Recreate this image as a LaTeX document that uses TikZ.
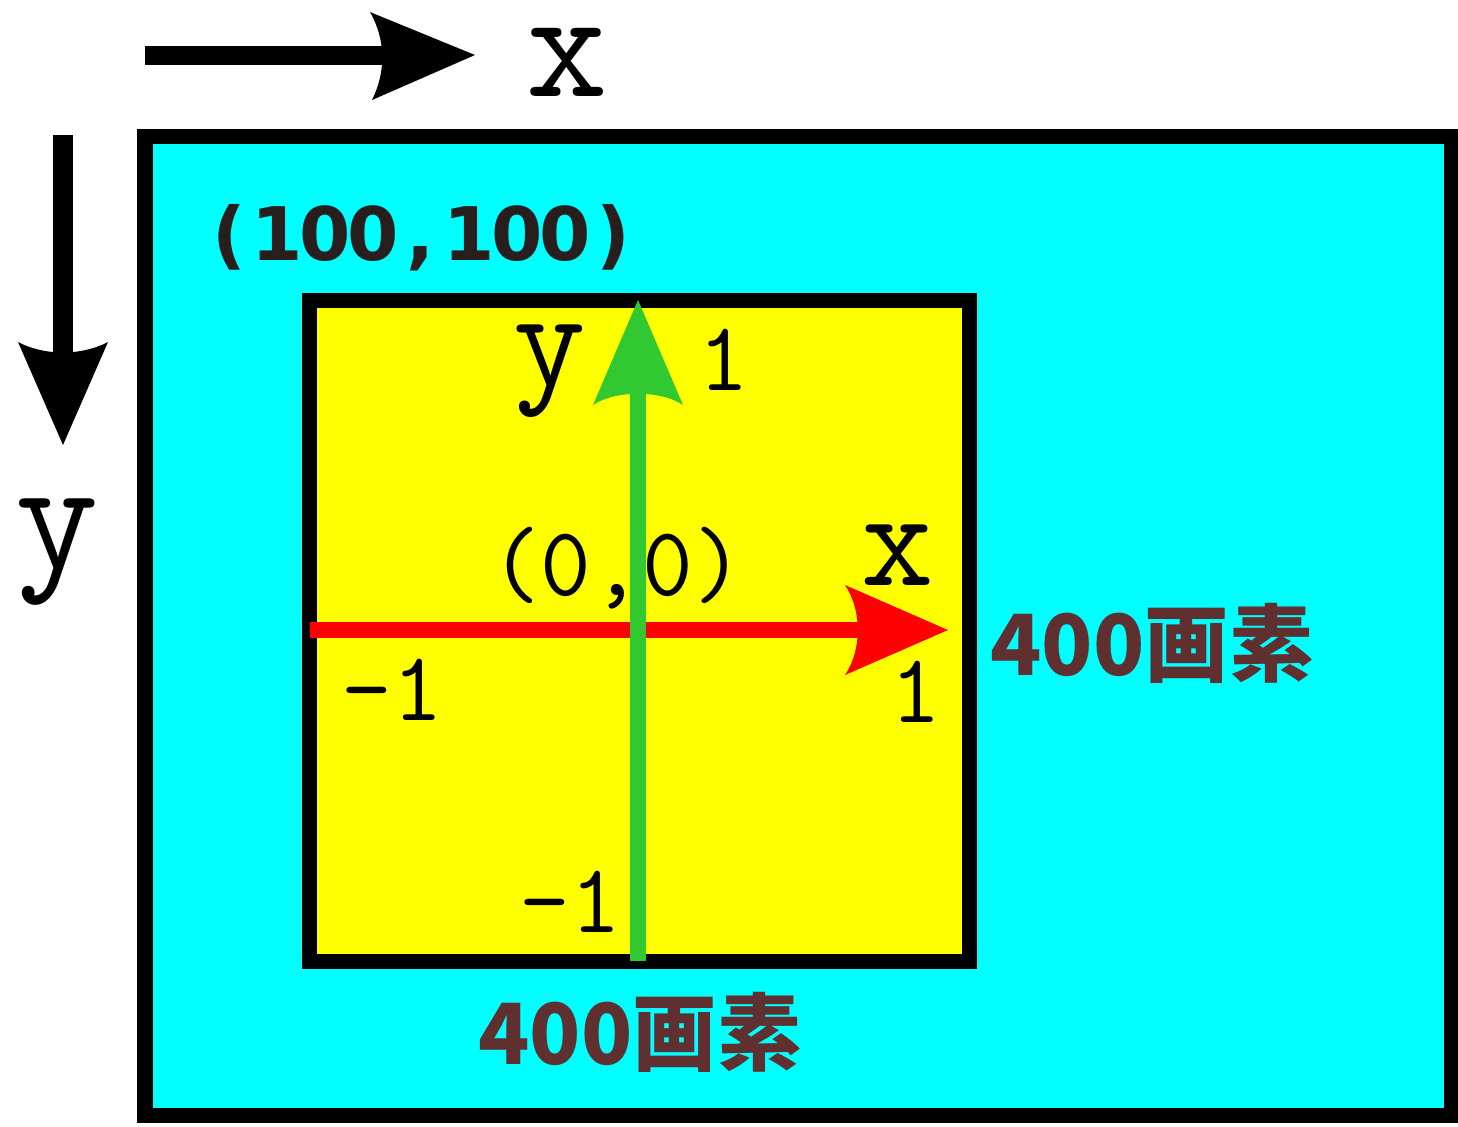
\documentclass[tikz,border=0pt]{standalone}
\usepackage{fontspec}
\newfontfamily\bsans{DejaVu Sans}
\newfontfamily\cjk{Noto Sans CJK JP}
\definecolor{cyanbg}{RGB}{0,255,255}
\definecolor{yel}{RGB}{255,255,0}
\definecolor{grn}{RGB}{50,200,50}
\definecolor{redc}{RGB}{255,0,0}
\definecolor{brn}{RGB}{96,48,48}
\definecolor{dk}{RGB}{40,30,30}
\tikzset{
  frame/.style={draw=black,line width=0.15cm},
  lbl/.style={inner sep=0pt,anchor=base},
  pix/.style={inner sep=0pt,text=brn,font=\cjk\bfseries\fontsize{24}{24}\selectfont},
}
\newcommand{\tsz}[1]{\ttfamily\fontsize{#1}{#1}\selectfont}
\newcommand{\mch}[1]{\makebox[0.48cm][c]{#1}}
\begin{document}
\begin{tikzpicture}[x=0.01cm,y=-0.01cm]
\useasboundingbox (0,0) rectangle (1458,1126);
% outer canvas
\path[frame,fill=cyanbg] (145,136) rectangle (1451,1115);
% inner square
\path[frame,fill=yel] (309,300) rectangle (969,961);
% top x arrow
\coordinate (tx0) at (145,55);
\coordinate (tx1) at (390,55);
\draw[line width=0.19cm] (tx0) -- (tx1);
\fill (475,55) -- (370,12) .. controls (386,40) and (386,72) .. (372,100) -- cycle;
\node[lbl,font=\tsz{45}] (bx) at (567,96) {x};
% left y arrow
\coordinate (ly0) at (63,135);
\coordinate (ly1) at (63,365);
\draw[line width=0.19cm] (ly0) -- (ly1);
\fill (63,445) -- (18,342) .. controls (45,356) and (81,356) .. (108,342) -- cycle;
\node[lbl,font=\tsz{46}] (by) at (57,568) {y};
% red x axis
\coordinate (rx0) at (310,630);
\coordinate (rx1) at (870,630);
\draw[redc,line width=0.16cm] (rx0) -- (rx1);
\fill[redc] (948,630) -- (845,585) .. controls (862,610) and (862,650) .. (845,675) -- cycle;
% green y axis
\coordinate (gy0) at (638,961);
\coordinate (gy1) at (638,390);
\draw[grn,line width=0.16cm] (gy0) -- (gy1);
\fill[grn] (638,300) -- (593,405) .. controls (615,390) and (661,390) .. (683,405) -- cycle;
% labels
\node[lbl,text=dk,font=\bsans\bfseries\fontsize{21}{21}\selectfont] (p100) at (421,260) {\mch{(}\mch{1}\mch{0}\mch{0}\mch{,}\mch{1}\mch{0}\mch{0}\mch{)}};
\node[lbl,font=\tsz{40}] (iy) at (550,385) {y};
\node[lbl,font=\tsz{28}] (one1) at (724,390) {1};
\node[lbl,font=\tsz{28}] (orig) at (617,595) {(0,0)};
\node[lbl,font=\tsz{40}] (ix) at (898,585) {x};
\node[lbl,font=\tsz{28}] (m1a) at (392,720) {-1};
\node[lbl,font=\tsz{28}] (one2) at (916,722) {1};
\node[lbl,font=\tsz{28}] (m1b) at (570,932) {-1};
\node[pix] (w1) at (1152,643) {400画素};
\node[pix] (w2) at (640,1032) {400画素};
\end{tikzpicture}
\end{document}
